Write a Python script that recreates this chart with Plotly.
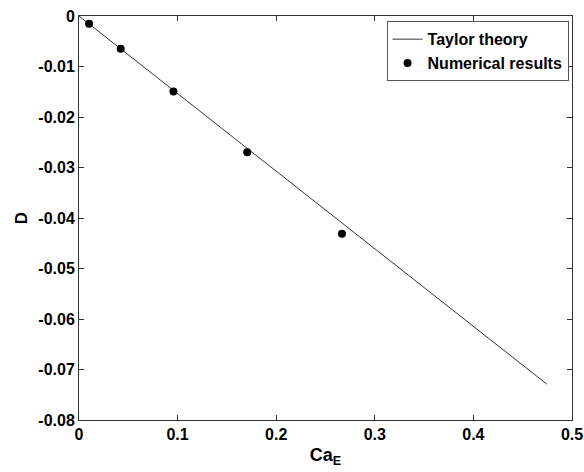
import plotly.graph_objects as go

# Taylor theory line (endpoints)
theory_ca = [0.0, 0.4745]
theory_d = [0.0, -0.0729]

# Numerical results
num_ca = [0.0102, 0.0423, 0.0958, 0.1706, 0.2667]
num_d = [-0.00154, -0.00649, -0.01493, -0.0270, -0.0431]

x_ticks = [0, 0.1, 0.2, 0.3, 0.4, 0.5]
x_labels = ["0", "0.1", "0.2", "0.3", "0.4", "0.5"]
y_ticks = [0, -0.01, -0.02, -0.03, -0.04, -0.05, -0.06, -0.07, -0.08]
y_labels = ["0", "-0.01", "-0.02", "-0.03", "-0.04", "-0.05", "-0.06", "-0.07", "-0.08"]

font_family = "Liberation Sans, Arial, sans-serif"

fig = go.Figure()
fig.add_trace(go.Scatter(
    x=theory_ca, y=theory_d, mode="lines", name="<b>Taylor theory</b>",
    line=dict(color="#333333", width=1),
))
fig.add_trace(go.Scatter(
    x=num_ca, y=num_d, mode="markers", name="<b>Numerical results</b>",
    marker=dict(color="black", size=8, symbol="circle"),
))

axis_common = dict(
    showgrid=False, zeroline=False, showline=True, linecolor="#333333",
    linewidth=1, mirror="ticks", ticks="inside", ticklen=5,
    tickcolor="#333333", tickwidth=1,
    tickfont=dict(family=font_family, size=16, color="black", weight="bold"),
)

fig.update_layout(
    width=584, height=472,
    margin=dict(l=79, r=12, t=16, b=52, autoexpand=False),
    plot_bgcolor="white", paper_bgcolor="white",
    font=dict(family=font_family, color="black"),
    xaxis=dict(range=[0, 0.5], tickvals=x_ticks, ticktext=x_labels,
               title=dict(text="<b>Ca<sub>E</sub></b>", font=dict(size=18), standoff=6),
               automargin=False, **axis_common),
    yaxis=dict(range=[-0.08, 0], tickvals=y_ticks, ticktext=y_labels,
               title=dict(text="<b>D</b>", font=dict(size=17), standoff=6),
               automargin=False, **axis_common),
    legend=dict(
        x=0.993, y=0.987, xanchor="right", yanchor="top",
        bordercolor="#555555", borderwidth=1, bgcolor="white",
        font=dict(family=font_family, size=16, color="black"),
        tracegroupgap=0, itemwidth=30,
    ),
    showlegend=True,
)

fig.write_html("out.html", config={"displayModeBar": False},
               post_script="document.body.style.margin='0';")
